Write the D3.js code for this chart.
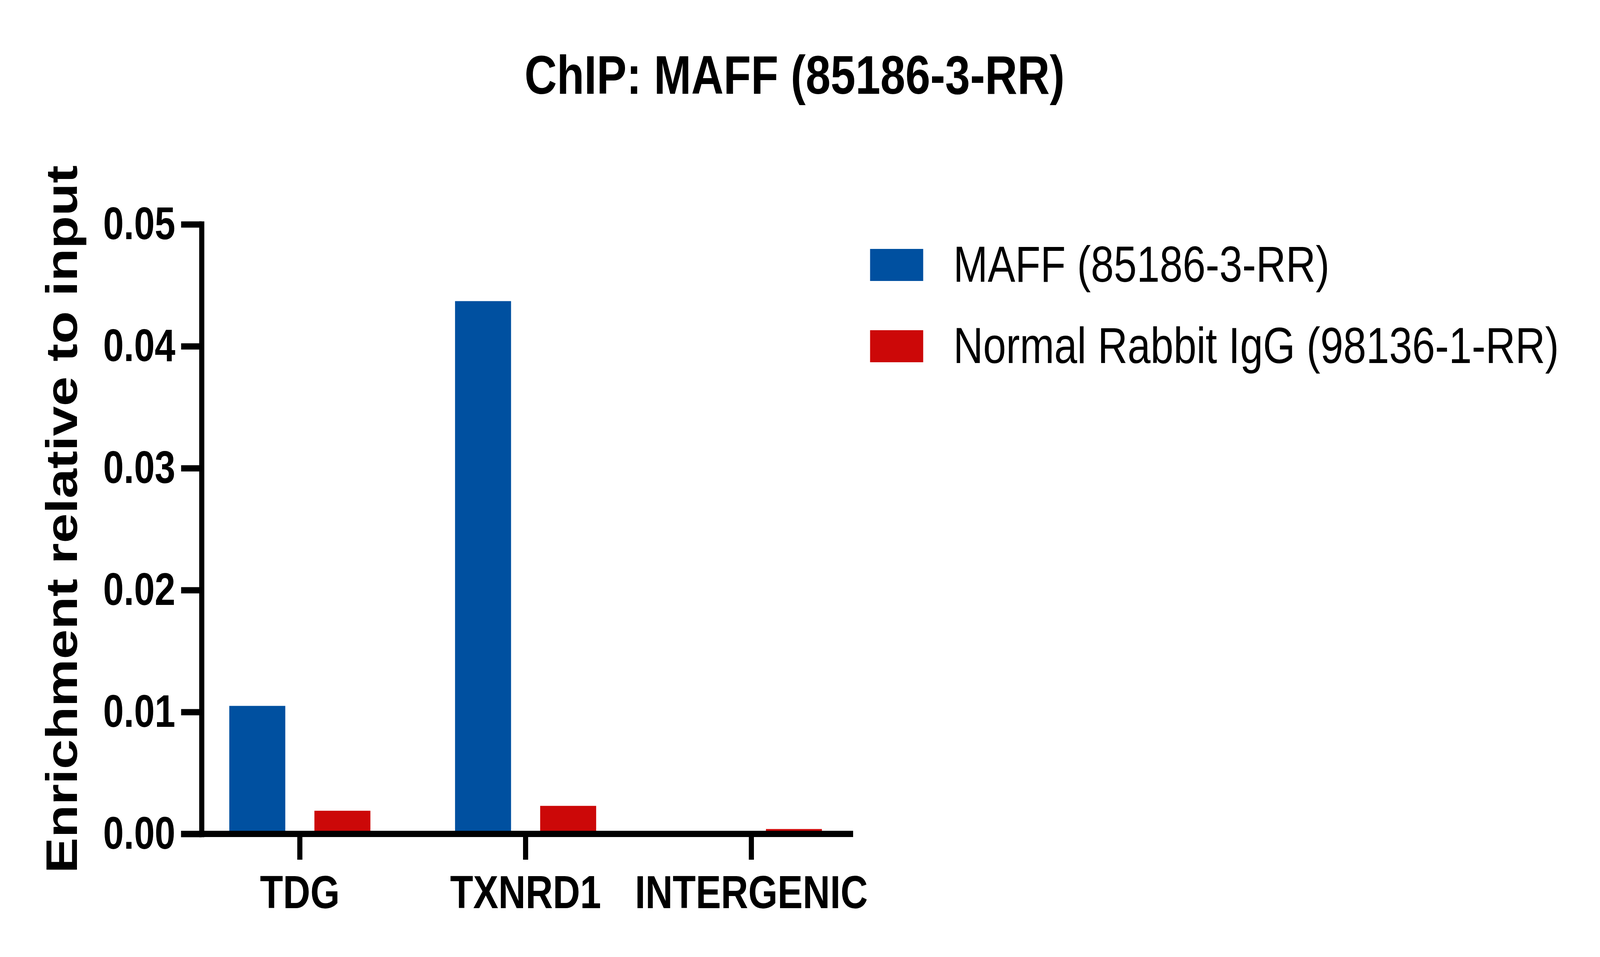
<!DOCTYPE html>
<html>
<head>
<meta charset="utf-8">
<script src="https://cdn.jsdelivr.net/npm/d3@7"></script>
<style>
  html, body { margin: 0; padding: 0; background: #ffffff; overflow: hidden; width: 100vw; height: 100vh; }
  svg { display: block; width: 100vw; height: 100vh; }
  text { font-family: "Liberation Sans", Arial, sans-serif; fill: #000; }
</style>
</head>
<body>
<script>
// ---- data ----
const categories = ["TDG", "TXNRD1", "INTERGENIC"];
const seriesNames = ["MAFF (85186-3-RR)", "Normal Rabbit IgG (98136-1-RR)"];
const maffValues = [0.0105, 0.0437, 0.0001];
const iggValues = [0.0019, 0.0023, 0.0004];
const yTicks = [0, 0.01, 0.02, 0.03, 0.04, 0.05];
const seriesColors = ["#0050A0", "#CC0808"];
const titleText = "ChIP: MAFF (85186-3-RR)";
const yLabelText = "Enrichment relative to input";

const W = 5000, H = 2449;
const svg = d3.select("body").append("svg")
  .attr("viewBox", `0 0 ${W} ${H}`)
  .attr("preserveAspectRatio", "none");

const rows = categories.map((c, i) => ({ cat: c, vals: [maffValues[i], iggValues[i]] }));

// scales
const x = d3.scaleBand().domain(categories).range([584.25, 2700.75]).padding(0);
const xInner = d3.scaleBand().domain(seriesNames).range([-220.5, 220.5]).paddingInner(0.342).paddingOuter(0);
const y = d3.scaleLinear().domain([0, 0.05]).range([2134, 574]);
const color = d3.scaleOrdinal().domain(seriesNames).range(seriesColors);

// bars
const g = svg.append("g");
rows.forEach(r => {
  const cx = x(r.cat) + x.bandwidth() / 2;
  r.vals.forEach((v, j) => {
    const s = seriesNames[j];
    g.append("rect")
      .attr("x", cx + xInner(s))
      .attr("y", y(v))
      .attr("width", xInner.bandwidth())
      .attr("height", y(0) - y(v))
      .attr("fill", color(s));
  });
});

// y axis
const yAxis = svg.append("g")
  .attr("transform", "translate(630,0)")
  .call(d3.axisLeft(y).tickValues(yTicks).tickFormat(d3.format(".2f")).tickSize(64).tickSizeOuter(0).tickPadding(18));
yAxis.select(".domain").attr("stroke", "#000").attr("stroke-width", 16).attr("stroke-linecap", "square");
yAxis.selectAll(".tick line").attr("stroke", "#000").attr("stroke-width", 16);
yAxis.selectAll(".tick text")
  .attr("font-family", "Liberation Sans, Arial, sans-serif")
  .attr("font-size", 116).attr("font-weight", "bold").attr("fill", "#000");

// x axis
const xAxis = svg.append("g")
  .attr("transform", "translate(0,2134)")
  .call(d3.axisBottom(x).tickSize(66).tickSizeOuter(0).tickPadding(40));
xAxis.select(".domain").remove();
xAxis.selectAll(".tick line").attr("stroke", "#000").attr("stroke-width", 16);
xAxis.selectAll(".tick text")
  .attr("font-family", "Liberation Sans, Arial, sans-serif")
  .attr("font-size", 118).attr("font-weight", "bold").attr("fill", "#000");
xAxis.append("line")
  .attr("x1", 566).attr("x2", 2666).attr("y1", 0).attr("y2", 0)
  .attr("stroke", "#000").attr("stroke-width", 16);

// title
svg.append("text")
  .attr("x", 2483).attr("y", 240)
  .attr("text-anchor", "middle")
  .attr("font-size", 140).attr("font-weight", "bold")
  .text(titleText);

// y label
svg.append("text")
  .attr("transform", "translate(240,1329) rotate(-90)")
  .attr("text-anchor", "middle")
  .attr("font-size", 137).attr("font-weight", "bold")
  .text(yLabelText);

// legend
const legend = svg.append("g").attr("transform", "translate(2719,0)");
const legendY = d3.scalePoint().domain(seriesNames).range([637, 845]);
seriesNames.forEach(s => {
  legend.append("rect")
    .attr("x", 0).attr("y", legendY(s))
    .attr("width", 166).attr("height", 82)
    .attr("fill", color(s));
  legend.append("text")
    .attr("x", 260).attr("y", legendY(s) + 84)
    .attr("font-size", 129)
    .text(s);
});
</script>
</body>
</html>
